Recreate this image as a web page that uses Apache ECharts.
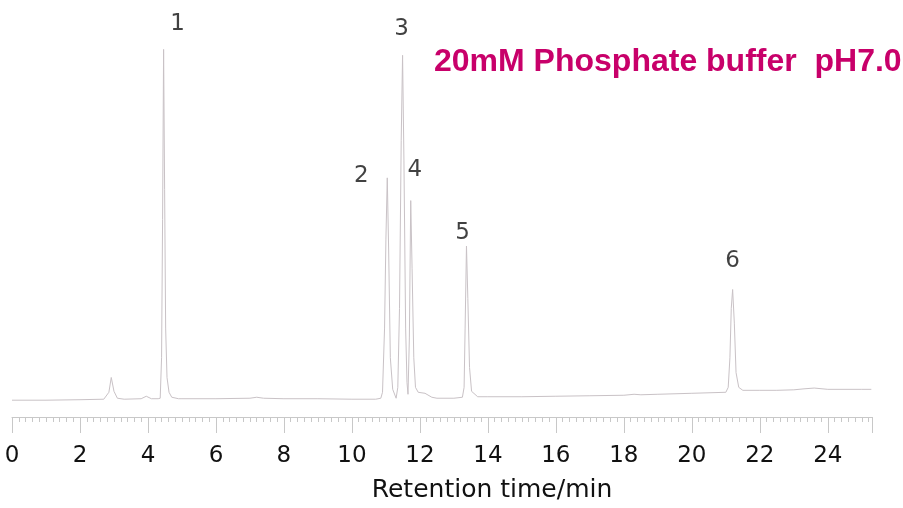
<!DOCTYPE html>
<html>
<head>
<meta charset="utf-8">
<script src="https://cdn.jsdelivr.net/npm/echarts@6/dist/echarts.min.js"></script>
<style>
html,body{margin:0;padding:0;background:#fff;}
#chart{width:903px;height:508px;}
</style>
</head>
<body>
<div id="chart"></div>
<script>
// Retention time (min) and detector signal (arbitrary units)
const times = [
  0, 1, 2, 2.7, 2.85, 2.92, 3.0, 3.1, 3.3, 3.8, 3.95, 4.1, 4.3,
  4.36, 4.40, 4.43, 4.46, 4.49, 4.52, 4.56, 4.62, 4.7, 4.9,
  5, 6, 7, 7.2, 7.4, 8, 9, 10, 10.7, 10.85,
  10.9, 10.96, 11.0, 11.04, 11.08, 11.13, 11.2, 11.3,
  11.35, 11.4, 11.45, 11.49, 11.53, 11.58, 11.62, 11.65,
  11.69, 11.73, 11.77, 11.82, 11.87, 11.95, 12.15, 12.35, 12.5, 13.0, 13.25,
  13.3, 13.33, 13.37, 13.41, 13.46, 13.52, 13.7, 14,
  15, 16, 17, 18, 18.3, 18.5, 19, 20, 21.0,
  21.07, 21.12, 21.16, 21.2, 21.25, 21.3, 21.38, 21.5,
  22, 22.5, 23, 23.3, 23.6, 24, 25, 25.28
];
const signal = [
  17, 17, 17.5, 18, 25, 40, 26, 19, 18, 18.5, 21, 18.5, 18.5,
  19, 60, 200, 372, 230, 90, 40, 25, 20, 18.5,
  18.5, 18.5, 19, 20, 19, 18.5, 18.5, 18, 18, 19,
  25, 90, 180, 242, 170, 60, 28, 19,
  30, 110, 280, 366, 260, 90, 35, 23,
  80, 219, 150, 60, 30, 25, 24, 20, 19, 19, 20,
  30, 90, 173, 120, 50, 26, 20.5, 20.5,
  20.5, 21, 21.5, 22, 23, 22.5, 23, 24, 25,
  30, 60, 110, 129, 95, 45, 30, 27,
  27, 27, 27.5, 28.5, 29.3, 28, 28, 28
];
// Peak annotations
const peakNames = ['1', '2', '3', '4', '5', '6'];
const peakTimes = [4.46, 11.04, 11.49, 11.73, 13.37, 21.2];
const peakHeights = [372, 242, 366, 219, 173, 129];
const xTickLabels = ['0','2','4','6','8','10','12','14','16','18','20','22','24'];
const titleText = '20mM Phosphate buffer  pH7.0';
const xAxisName = 'Retention time/min';

const labelOffsets = [[14, -25], [-26, -2], [-1, -26], [4, -31], [-4, -13], [0, -28]];

const chart = echarts.init(document.getElementById('chart'), null, {renderer: 'canvas'});
const lineData = times.map((t, i) => [t, signal[i]]);
const peakData = peakTimes.map((t, i) => ({
  value: [t, peakHeights[i]],
  label: {
    show: true,
    formatter: peakNames[i],
    position: 'inside',
    offset: labelOffsets[i]
  }
}));

chart.setOption({
  animation: false,
  backgroundColor: '#ffffff',
  title: {
    text: titleText,
    left: 434,
    top: 46,
    padding: 0,
    textStyle: {
      fontFamily: 'Liberation Sans, Arial, sans-serif',
      fontWeight: 'bold',
      fontSize: 32,
      color: '#c8006a'
    }
  },
  grid: {left: 12, right: 31, top: 0, bottom: 86, containLabel: false},
  xAxis: {
    type: 'value',
    min: 0,
    max: 25.3,
    interval: 2,
    name: xAxisName,
    nameLocation: 'middle',
    nameGap: 61,
    nameTextStyle: {
      fontFamily: 'DejaVu Sans',
      fontSize: 25,
      color: '#111111',
      padding: [0, 0, 0, 100]
    },
    axisLine: {show: true, onZero: false, lineStyle: {color: '#c8c8c8', width: 1}},
    axisTick: {show: true, length: 16, lineStyle: {color: '#c8c8c8', width: 1}},
    minorTick: {show: true, splitNumber: 10, length: 5, lineStyle: {color: '#c8c8c8', width: 1}},
    splitLine: {show: false},
    axisLabel: {
      margin: 28,
      fontFamily: 'DejaVu Sans',
      fontSize: 23,
      color: '#111111',
      showMaxLabel: false,
      formatter: function (v) {
        const idx = Math.round(v / 2);
        return xTickLabels[idx] !== undefined ? xTickLabels[idx] : '';
      }
    }
  },
  yAxis: {
    type: 'value',
    min: 0,
    max: 422,
    show: false
  },
  series: [
    {
      type: 'line',
      data: lineData,
      showSymbol: false,
      symbol: 'none',
      smooth: false,
      lineStyle: {color: '#c9c2c6', width: 1},
      z: 2
    },
    {
      type: 'scatter',
      data: peakData,
      symbolSize: 0,
      label: {
        fontFamily: 'DejaVu Sans',
        fontSize: 23,
        color: '#111111'
      },
      silent: true,
      z: 3
    }
  ]
});
</script>
</body>
</html>
